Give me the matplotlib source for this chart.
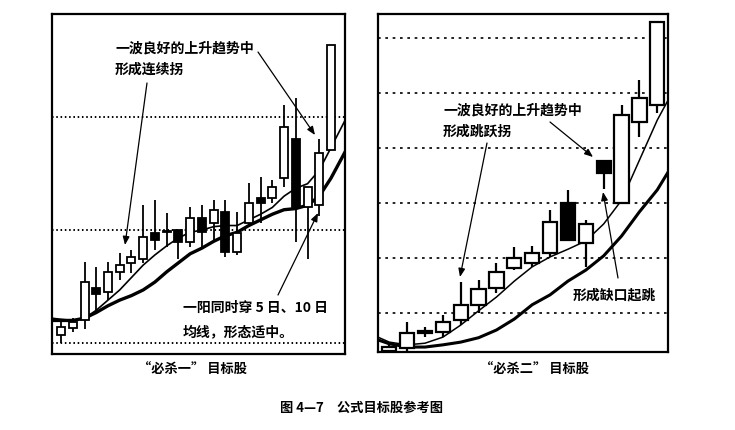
import matplotlib
matplotlib.use('Agg')
import matplotlib.pyplot as plt
import numpy as np

plt.rcParams['font.family'] = ['Noto Sans CJK SC', 'DejaVu Sans']

# ---- "必杀一" panel: daily candles (open, high, low, close) ----
left_open = [6.07, 6.13, 6.20, 6.49, 6.45, 6.63, 6.71, 6.74, 6.97, 6.98, 7.00, 6.89,
             7.11, 7.06, 7.16, 6.81, 7.06, 7.28, 7.28, 7.46, 7.81, 7.20, 7.22, 7.71]
left_high = [6.21, 6.22, 6.72, 6.67, 6.72, 6.80, 6.82, 7.22, 7.27, 7.15, 7.00, 7.20,
             7.22, 7.27, 7.27, 7.16, 7.42, 7.47, 7.44, 8.11, 8.17, 7.38, 7.81, 8.64]
left_low = [6.00, 6.10, 6.12, 6.27, 6.38, 6.56, 6.62, 6.71, 6.82, 6.85, 6.74, 6.85,
            6.84, 6.91, 6.76, 6.78, 7.03, 7.06, 7.24, 7.38, 6.89, 6.74, 7.12, 7.71]
left_close = [6.14, 6.19, 6.54, 6.43, 6.63, 6.69, 6.76, 6.94, 6.91, 6.99, 6.89, 7.11,
              6.98, 7.18, 6.81, 6.97, 7.24, 7.24, 7.38, 7.91, 7.20, 7.38, 7.68, 8.64]
# moving averages, sampled at panel edge, each candle, panel edge
left_ma_x = [-0.77] + list(range(24)) + [24.19]
left_ma5 = [6.22, 6.21, 6.20, 6.22, 6.29, 6.38, 6.47, 6.58, 6.69, 6.78, 6.86, 6.93, 6.98,
            7.00, 7.03, 7.04, 7.04, 7.09, 7.14, 7.20, 7.30, 7.37, 7.41, 7.53, 7.73, 7.97]
left_ma10 = [6.20, 6.20, 6.20, 6.22, 6.27, 6.33, 6.38, 6.42, 6.47, 6.54, 6.63, 6.71, 6.79,
             6.84, 6.90, 6.95, 6.98, 7.04, 7.09, 7.14, 7.18, 7.19, 7.22, 7.30, 7.46, 7.69]
left_grid = [6, 7, 8]

# ---- "必杀二" panel ----
right_open = [9.31, 9.36, 9.64, 9.66, 9.87, 10.15, 10.45, 10.82, 10.91, 11.09, 12.00,
              11.27, 12.76, 12.00, 13.47, 13.78]
right_high = [9.44, 9.84, 9.75, 9.96, 10.56, 10.60, 10.91, 11.20, 11.22, 11.87, 12.24,
              11.69, 12.76, 13.78, 14.24, 15.29]
right_low = [9.27, 9.29, 9.56, 9.56, 9.78, 10.00, 10.36, 10.78, 10.84, 11.02, 11.33,
             10.84, 12.25, 12.00, 13.20, 13.64]
right_close = [9.38, 9.64, 9.67, 9.84, 10.15, 10.44, 10.75, 11.00, 11.09, 11.65, 11.33,
               11.62, 12.55, 13.60, 13.91, 15.29]
right_ma_x = [-0.63] + list(range(16)) + [15.6]
right_ma5 = [9.56, 9.47, 9.42, 9.45, 9.56, 9.78, 10.04, 10.29, 10.58, 10.84, 11.02,
             11.16, 11.31, 11.62, 12.05, 12.78, 13.51, 13.87]
right_ma10 = [9.51, 9.44, 9.38, 9.38, 9.42, 9.47, 9.55, 9.69, 9.89, 10.15, 10.33,
              10.58, 10.78, 11.04, 11.40, 11.84, 12.24, 12.56]
right_grid = [10, 11, 12, 13, 14, 15]

W, H = 735, 430


def fp(x, y):
    # pixel (from top-left) -> figure fraction
    return x / W, 1 - y / H


def draw_candles(ax, o, h, l, c, width, lw):
    o, h, l, c = map(np.array, (o, h, l, c))
    x = np.arange(len(o))
    ax.vlines(x, l, h, color='black', lw=lw, zorder=3)
    up = c >= o
    body = np.maximum(np.abs(c - o), 0.012)
    bottom = np.minimum(o, c)
    ax.bar(x[up], body[up], width, bottom=bottom[up], facecolor='white',
           edgecolor='black', lw=lw, zorder=4)
    ax.bar(x[~up], body[~up], width, bottom=bottom[~up], facecolor='black',
           edgecolor='black', lw=lw, zorder=4)


def setup_panel(ax, grid, dash, lw):
    for g in grid:
        ax.axhline(g, color='black', lw=lw, linestyle=dash, zorder=1)
    ax.set_xticks([])
    ax.set_yticks([])
    for s in ax.spines.values():
        s.set_linewidth(1.6)


fig = plt.figure(figsize=(7.35, 4.3), dpi=100)

ax1 = fig.add_axes([52 / W, 1 - 354 / H, 293 / W, 340 / H])
setup_panel(ax1, left_grid, (0, (0.8, 1.4)), 1.4)
draw_candles(ax1, left_open, left_high, left_low, left_close, 0.68, 1.3)
ax1.plot(left_ma_x, left_ma5, color='black', lw=1.2, zorder=2)
ax1.plot(left_ma_x, left_ma10, color='black', lw=2.4, zorder=2)
ax1.set_xlim(-0.77, 24.19)
ax1.set_ylim(5.903, 8.912)

ax2 = fig.add_axes([378 / W, 1 - 352 / H, 290 / W, 338 / H])
setup_panel(ax2, right_grid, (0, (1.6, 2.8)), 1.2)
draw_candles(ax2, right_open, right_high, right_low, right_close, 0.8, 1.6)
ax2.plot(right_ma_x, right_ma5, color='black', lw=1.1, zorder=2)
ax2.plot(right_ma_x, right_ma10, color='black', lw=2.2, zorder=2)
ax2.set_xlim(-0.63, 15.6)
ax2.set_ylim(9.29, 15.44)

txt = dict(fontsize=10, fontweight='bold', color='black', va='center', ha='left')
notes = [
    ('一波良好的上升趋势中', 115, 49), ('形成连续拐', 115, 70),
    ('一阳同时穿 5 日、10 日', 183, 308), ('均线，形态适中。', 183, 332),
    ('一波良好的上升趋势中', 443, 110), ('形成跳跃拐', 443, 132),
    ('形成缺口起跳', 573, 295),
]
for s, x, y in notes:
    t = fig.text(*fp(x, y), s, **txt)
    t.set_zorder(10)

arrows = [
    ((147, 83), (125, 245)), ((258, 52), (315, 135)), ((278, 295), (318, 213)),
    ((487, 143), (460, 277)), ((550, 122), (593, 157)), ((618, 278), (603, 192)),
]
for start, end in arrows:
    fig.add_artist(matplotlib.patches.FancyArrowPatch(
        fp(*start), fp(*end), transform=fig.transFigure,
        arrowstyle='-|>,head_length=5,head_width=2', lw=0.9, color='black',
        shrinkA=0, shrinkB=0, zorder=10))

fig.text(*fp(192, 370), '“必杀一” 目标股', fontsize=9.5, fontweight='bold',
         ha='center', va='center')
fig.text(*fp(534, 370), '“必杀二” 目标股', fontsize=9.5, fontweight='bold',
         ha='center', va='center')
fig.text(*fp(362, 408), '图 4—7　公式目标股参考图', fontsize=9.5, fontweight='bold',
         ha='center', va='center')

fig.savefig('out.png', dpi=100)
